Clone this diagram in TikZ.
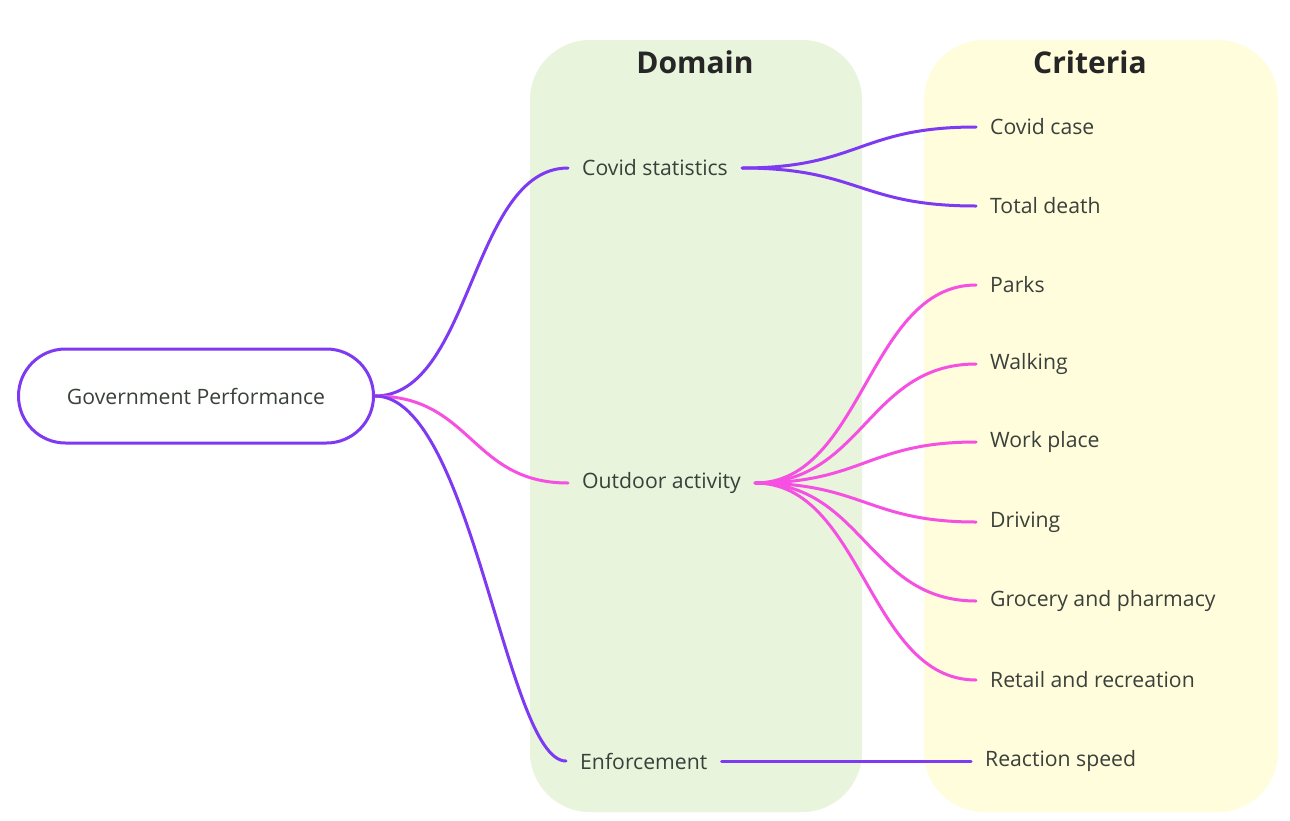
\documentclass[tikz,border=0pt]{standalone}
\usepackage{fontspec}
\setmainfont{Open Sans}
\begin{document}
\begin{tikzpicture}[x=1pt,y=-1pt]
\definecolor{purp}{RGB}{126,58,242}
\definecolor{pink}{RGB}{245,80,225}
\definecolor{greenbg}{RGB}{232,244,220}
\definecolor{yellowbg}{RGB}{255,253,220}
\definecolor{txt}{RGB}{58,64,58}
\tikzset{
  panel/.style={rounded corners=60pt, draw=none},
  title/.style={font=\fontsize{30}{34}\selectfont\bfseries, text=black!85},
  lbl/.style={font=\fontsize{21.2}{25}\selectfont, text=txt, inner xsep=14pt, inner ysep=2pt, anchor=west},
  rootbox/.style={draw=purp, line width=3pt, rounded corners=47pt, minimum width=355pt, minimum height=94pt, fill=white, font=\fontsize{21.2}{25}\selectfont, text=txt},
  purpline/.style={draw=purp, line width=3pt, line cap=round},
  pinkline/.style={draw=pink, line width=3pt, line cap=round}
}
\useasboundingbox (0,0) rectangle (1290,820);
\fill[white] (0,0) rectangle (1290,820);
% panels
\fill[greenbg, panel] (530,40) rectangle (862,812);
\fill[yellowbg, panel] (924,40) rectangle (1278,812);
\node[title] (tdom) at (695,62) {Domain};
\node[title] (tcrit) at (1090,62) {Criteria};
% nodes
\node[rootbox] (root) at (196,396) {Government Performance};
\node[lbl] (cs) at (568,168) {Covid statistics};
\node[lbl] (oa) at (568,483) {Outdoor activity};
\node[lbl] (en) at (566,761) {Enforcement};
\node[lbl] (cc) at (976,127) {Covid case};
\node[lbl] (td) at (976,206) {Total death};
\node[lbl] (pa) at (976,285) {Parks};
\node[lbl] (wa) at (976,364) {Walking};
\node[lbl] (wp) at (976,442) {Work place};
\node[lbl] (dr) at (976,522) {Driving};
\node[lbl] (gp) at (976,601) {Grocery and pharmacy};
\node[lbl] (rr) at (976,680) {Retail and recreation};
\node[lbl] (rs) at (971,761) {Reaction speed};
% connectors: root to domain
\draw[purpline] (root.east) .. controls +(97,0) and +(-97,0) .. (cs.west);
\draw[pinkline] (root.east) .. controls +(97,0) and +(-97,0) .. (oa.west);
\draw[purpline] (root.east) .. controls +(97,0) and +(-60,0) .. (en.west);
% covid statistics
\draw[purpline] (cs.east) .. controls +(117,0) and +(-117,0) .. (cc.west);
\draw[purpline] (cs.east) .. controls +(117,0) and +(-117,0) .. (td.west);
% outdoor
\foreach \n in {pa,wa,wp,dr,gp,rr}{
  \draw[pinkline] (oa.east) .. controls +(108,0) and +(-108,0) .. (\n.west);
}
% enforcement
\draw[purpline] (en.east) -- (rs.west);
\end{tikzpicture}
\end{document}
